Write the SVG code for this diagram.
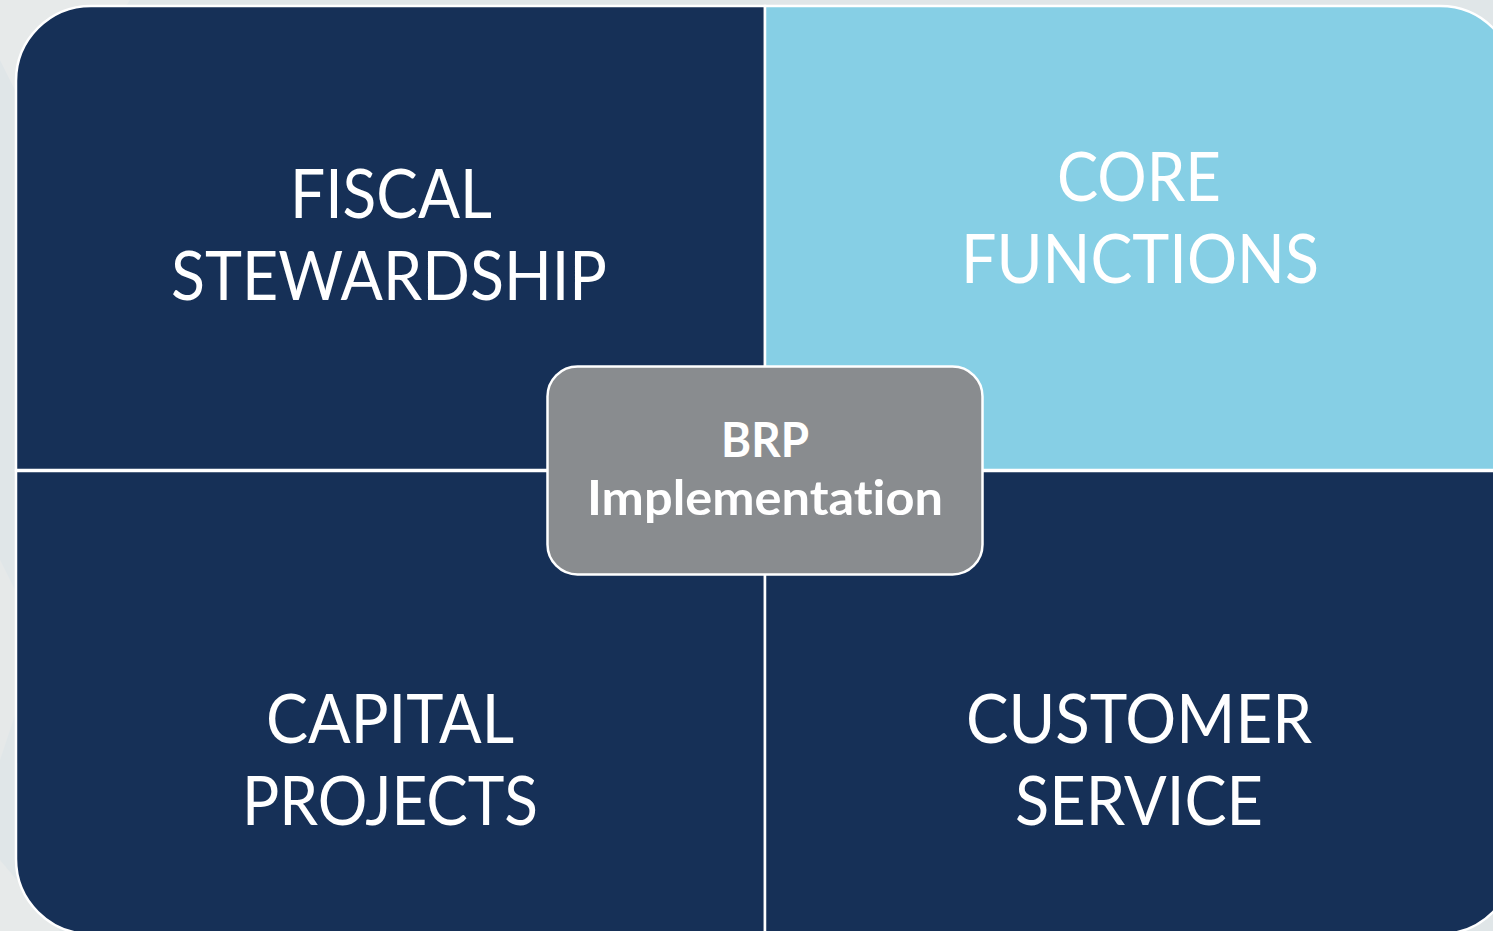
<svg xmlns="http://www.w3.org/2000/svg" width="1493" height="931" viewBox="0 0 1493 931">
  <style>
    .quad { stroke: #ffffff; stroke-width: 2.5; }
    .navy { fill: #163057; }
    .sky { fill: #86cfe5; }
    .label { font-family: Lato, "Open Sans", "Liberation Sans", sans-serif; font-size: 67px; fill: #ffffff; text-anchor: middle; font-variant-ligatures: none; font-feature-settings: "liga" 0, "clig" 0; }
    .hub-label { font-family: Lato, "Open Sans", "Liberation Sans", sans-serif; font-size: 47px; font-weight: bold; fill: #ffffff; text-anchor: middle; font-variant-ligatures: none; font-feature-settings: "liga" 0, "clig" 0; }
  </style>

  <!-- backdrop -->
  <rect x="0" y="0" width="1493" height="931" fill="#e0e6e8"/>
  <polygon points="0,0 130,0 40,140 0,60" fill="#e7eaea"/>
  <polygon points="0,560 40,640 0,760" fill="#e6e9e9"/>
  <polygon points="0,860 60,931 0,931" fill="#e7eaea"/>

  <!-- quadrants -->
  <g id="fiscal-stewardship">
    <path class="quad navy" d="M16,470 L16,81 A75,75 0 0 1 91,6 L765,6 L765,470 Z"/>
    <text class="label" x="391" y="218" textLength="202" lengthAdjust="spacingAndGlyphs">FISCAL</text>
    <text class="label" x="389" y="300" textLength="436" lengthAdjust="spacingAndGlyphs">STEWARDSHIP</text>
  </g>

  <g id="core-functions">
    <path class="quad sky" d="M765,6 L1440,6 A75,75 0 0 1 1515,81 L1515,470 L765,470 Z"/>
    <text class="label" x="1139" y="201" textLength="164" lengthAdjust="spacingAndGlyphs">CORE</text>
    <text class="label" x="1140" y="283" textLength="358" lengthAdjust="spacingAndGlyphs">FUNCTIONS</text>
  </g>

  <g id="capital-projects">
    <path class="quad navy" d="M16,471 L765,471 L765,934 L91,934 A75,75 0 0 1 16,859 Z"/>
    <text class="label" x="390" y="743" textLength="248" lengthAdjust="spacingAndGlyphs">CAPITAL</text>
    <text class="label" x="390" y="825" textLength="296" lengthAdjust="spacingAndGlyphs">PROJECTS</text>
  </g>

  <g id="customer-service">
    <path class="quad navy" d="M765,471 L1515,471 L1515,859 A75,75 0 0 1 1440,934 L765,934 Z"/>
    <text class="label" x="1139" y="743" textLength="346" lengthAdjust="spacingAndGlyphs">CUSTOMER</text>
    <text class="label" x="1139" y="825" textLength="248" lengthAdjust="spacingAndGlyphs">SERVICE</text>
  </g>

  <!-- central hub -->
  <g id="brp-implementation">
    <rect x="547.5" y="366.5" width="435" height="208" rx="30" ry="30" fill="#898c8f" stroke="#ffffff" stroke-width="2.5"/>
    <text class="hub-label" x="765" y="457" textLength="88" lengthAdjust="spacingAndGlyphs">BRP</text>
    <text class="hub-label" x="765" y="515" textLength="356" lengthAdjust="spacingAndGlyphs">Implementation</text>
  </g>

  <!-- no connectors in this layout -->
  <g id="connectors"/>
</svg>
